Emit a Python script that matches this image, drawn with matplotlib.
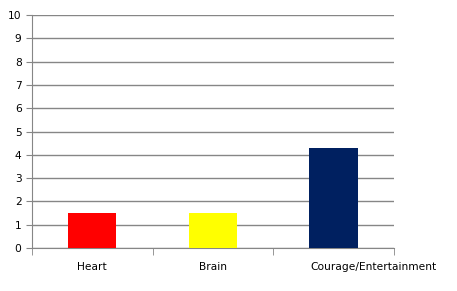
import matplotlib
matplotlib.use("Agg")
import matplotlib.pyplot as plt
import matplotlib.transforms as mtransforms
import numpy as np

categories = ["Heart", "Brain", "Courage/Entertainment"]
values = [1.5, 1.5, 4.3]
colors = ["#ff0000", "#ffff00", "#002060"]

fig = plt.figure(figsize=(4.57, 2.91), dpi=100)
ax = fig.add_axes([0.070, 0.148, 0.792, 0.800])
x = np.arange(len(categories))
ax.bar(x, values, width=0.4, color=colors, zorder=3)
ax.set_xlim(-0.5, 2.5)
ax.set_ylim(0, 10)
ax.set_yticks(range(0, 11))
ax.yaxis.grid(True, color="#868686", linewidth=1, zorder=0)
ax.set_axisbelow(True)
for s in ["top", "right"]:
    ax.spines[s].set_visible(False)
ax.spines["left"].set_color("#868686")
ax.spines["bottom"].set_color("#868686")
ax.set_xticks(x)
ax.set_xticklabels(categories, fontsize=7.7)
ax.tick_params(axis="x", which="major", length=0, pad=10)
ax.set_xticks(np.arange(-0.5, 3, 1), minor=True)
ax.tick_params(axis="x", which="minor", length=5, color="#868686")
ax.tick_params(axis="y", length=4, color="#868686", labelsize=7.7)
lbl = ax.get_xticklabels()[2]
lbl.set_transform(lbl.get_transform() + mtransforms.ScaledTranslation(0.40, 0, fig.dpi_scale_trans))
fig.savefig("out.png", dpi=100)
